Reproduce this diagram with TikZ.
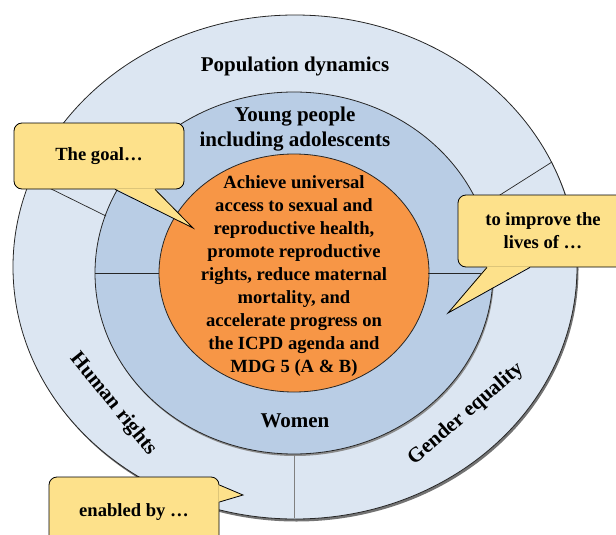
\documentclass[tikz,border=0pt]{standalone}
\usepackage{fontspec}
\setmainfont{Liberation Serif}[BoldFont={Liberation Serif Bold}]
\usepackage{tikz}
\usetikzlibrary{calc}
\definecolor{ringout}{HTML}{DCE6F2}
\definecolor{ringmid}{HTML}{B9CDE5}
\definecolor{core}{HTML}{F79646}
\definecolor{note}{HTML}{FDE18B}
\definecolor{edge}{HTML}{262626}

\begin{document}
\begin{tikzpicture}[x=1pt,y=-1pt,
  ring/.style={draw=edge,line width=0.8pt},
  lbl/.style={font=\rmfamily\bfseries\fontsize{21}{25}\selectfont,align=center,inner sep=0pt},
  txt/.style={font=\rmfamily\bfseries\fontsize{18.6}{23}\selectfont,align=center,inner sep=0pt},
  bubble/.style={draw=black,fill=note,line width=0.8pt,rounded corners=8pt,
    minimum width=170pt,font=\rmfamily\bfseries\fontsize{18.6}{23}\selectfont,align=center}]
  \clip (0,0) rectangle (616,535);
  \coordinate (O) at (294,273);
  \coordinate (Oout) at (295,267);
  % three rings
  \fill[black!55] ($(Oout)+(1.5,2.5)$) ellipse [x radius=282pt,y radius=252pt];
  \filldraw[ring,fill=ringout] (Oout) ellipse [x radius=282pt,y radius=252pt];
  \fill[black!45] ($(O)+(1,2)$) ellipse [x radius=199pt,y radius=181pt];
  \filldraw[ring,fill=ringmid] (O) ellipse [x radius=199pt,y radius=181pt];
  \filldraw[ring,fill=core] (O) ellipse [x radius=135pt,y radius=119pt];
  % dividers
  \draw[edge,line width=0.7pt] (95,273) -- (159,273) (428,273) -- (493,273);
  \draw[edge,line width=0.7pt] (33,180) -- (106,216);
  \draw[edge,line width=0.7pt] (481,207) -- (552,162);
  \draw[black!50,line width=0.7pt] (294,455) -- (294,518);
  % labels
  \node[lbl] (pop) at (295,66) {Population dynamics};
  \node[lbl] (young) at (295,129) {Young people\\including adolescents};
  \node[lbl] (women) at (295,421) {Women};
  \node[lbl,rotate=-51] (human) at (113,404) {Human rights};
  \node[lbl,rotate=41] (gender) at (466,414) {Gender equality};
  \node[txt] (goal) at (294,276) {Achieve universal\\access to sexual and\\reproductive health,\\promote reproductive\\rights, reduce maternal\\mortality, and\\accelerate progress on\\the ICPD agenda and\\MDG 5 (A \& B)};
  % callouts
  \node[bubble,minimum height=66pt] (goalbox) at (99,156) {The goal\dots};
  \coordinate (goaltip) at (193,228);
  \fill[note] ($(goalbox.south)+(16,-1)$) -- (goaltip) -- ($(goalbox.south)+(56,-1)$) -- cycle;
  \draw[black,line width=0.8pt] ($(goalbox.south)+(16,0)$) -- (goaltip) -- ($(goalbox.south)+(56,0)$);

  \node[bubble,minimum height=72pt] (livesbox) at (543,231) {to improve the\\lives of \dots};
  \coordinate (livestip) at (448,313);
  \fill[note] ($(livesbox.south)+(-56,-1)$) -- (livestip) -- ($(livesbox.south)+(-13,-1)$) -- cycle;
  \draw[black,line width=0.8pt] ($(livesbox.south)+(-56,0)$) -- (livestip) -- ($(livesbox.south)+(-13,0)$);

  \node[bubble,minimum height=70pt] (enabledbox) at (134,512) {enabled by \dots};
  \coordinate (enabledtip) at (243,495);
  \fill[note] ($(enabledbox.east)+(-1,-27)$) -- (enabledtip) -- ($(enabledbox.east)+(-1,-10)$) -- cycle;
  \draw[black,line width=0.8pt] ($(enabledbox.east)+(0,-27)$) -- (enabledtip) -- ($(enabledbox.east)+(0,-10)$);
\end{tikzpicture}
\end{document}
